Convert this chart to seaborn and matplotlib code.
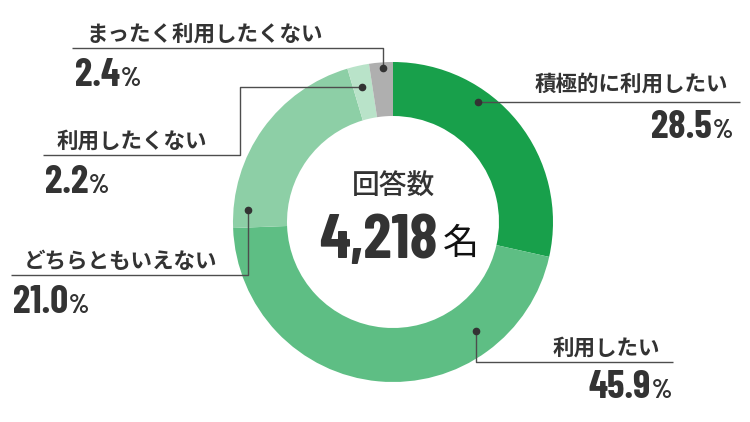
import numpy as np, pandas as pd, matplotlib
matplotlib.use('Agg')
import matplotlib.pyplot as plt
import seaborn as sns

### data ###
labels = ['積極的に利用したい', '利用したい', 'どちらともいえない', '利用したくない', 'まったく利用したくない']
shares = [28.5, 45.9, 21.0, 2.2, 2.4]
total_title = '回答数'
total_n = '4,218'
total_unit = '名'
colors = ['#18a04b', '#5ebe84', '#8dcfa6', '#b9e3c9', '#afafaf']

# callout layout in pixel coords (y down): line path, label anchor, value anchor
callouts = [
    dict(path=[(478, 102), (740, 102)], label=(728, 84), value=(733, 138), ha='right'),
    dict(path=[(476, 331), (476, 362), (673, 362)], label=(660, 348), value=(672, 398), ha='right'),
    dict(path=[(248, 210), (248, 275), (11, 275)], label=(24, 261), value=(13, 313), ha='left'),
    dict(path=[(362, 87), (240, 87), (240, 155), (43, 155)], label=(57, 141), value=(45, 193), ha='left'),
    dict(path=[(383, 68), (383, 48), (72, 48)], label=(87, 34), value=(75, 86), ha='left'),
]

sns.set_theme(style='white')
plt.rcParams['font.family'] = ['Noto Sans CJK JP', 'DejaVu Sans']
num_font = ['Barlow Condensed', 'Roboto Condensed', 'DejaVu Sans']
text_col = '#333333'
line_col = '#4d4d4d'

fig = plt.figure(figsize=(7.5, 4.22), dpi=100)
ax = fig.add_axes([0, 0, 1, 1])
ax.pie(shares, colors=sns.color_palette(colors), startangle=-90, counterclock=True,
       center=(393, 222), radius=160,
       wedgeprops=dict(width=54, edgecolor='none', linewidth=0))
ax.set_xlim(0, 750)
ax.set_ylim(422, 0)
ax.set_aspect('equal')
ax.axis('off')

renderer = fig.canvas.get_renderer()
inv = ax.transData.inverted()


def value_text(x, y, num, ha, size=28.5, pct_size=19):
    if ha == 'left':
        t = ax.text(x, y, num, ha='left', va='baseline', fontsize=size, fontweight='bold',
                    family=num_font, color=text_col)
        right = inv.transform(t.get_window_extent(renderer).get_points())[1][0]
        ax.text(right + 1, y, '%', ha='left', va='baseline', fontsize=pct_size,
                fontweight='bold', family=num_font, color=text_col)
    else:
        p = ax.text(x, y, '%', ha='right', va='baseline', fontsize=pct_size,
                    fontweight='bold', family=num_font, color=text_col)
        left = inv.transform(p.get_window_extent(renderer).get_points())[0][0]
        ax.text(left - 1, y, num, ha='right', va='baseline', fontsize=size,
                fontweight='bold', family=num_font, color=text_col)


for lab, val, c in zip(labels, shares, callouts):
    xs, ys = zip(*c['path'])
    ax.plot(xs, ys, color=line_col, lw=1.0, solid_capstyle='butt')
    ax.plot(xs[0], ys[0], 'o', color='#333333', ms=4.5)
    ax.text(c['label'][0], c['label'][1], lab, ha=c['ha'], va='center', fontsize=15.5,
            fontweight='bold', color=text_col)
    value_text(c['value'][0], c['value'][1], f'{val:.1f}', c['ha'])

# centre text
ax.text(393, 186, total_title, ha='center', va='center', fontsize=20, fontweight='medium',
        color=text_col)
ax.text(438, 258, total_n, ha='right', va='baseline', fontsize=46, fontweight='bold',
        family=num_font, color=text_col)
ax.text(443, 254, total_unit, ha='left', va='baseline', fontsize=26, color='#111111')

plt.savefig('out.png', dpi=100)
